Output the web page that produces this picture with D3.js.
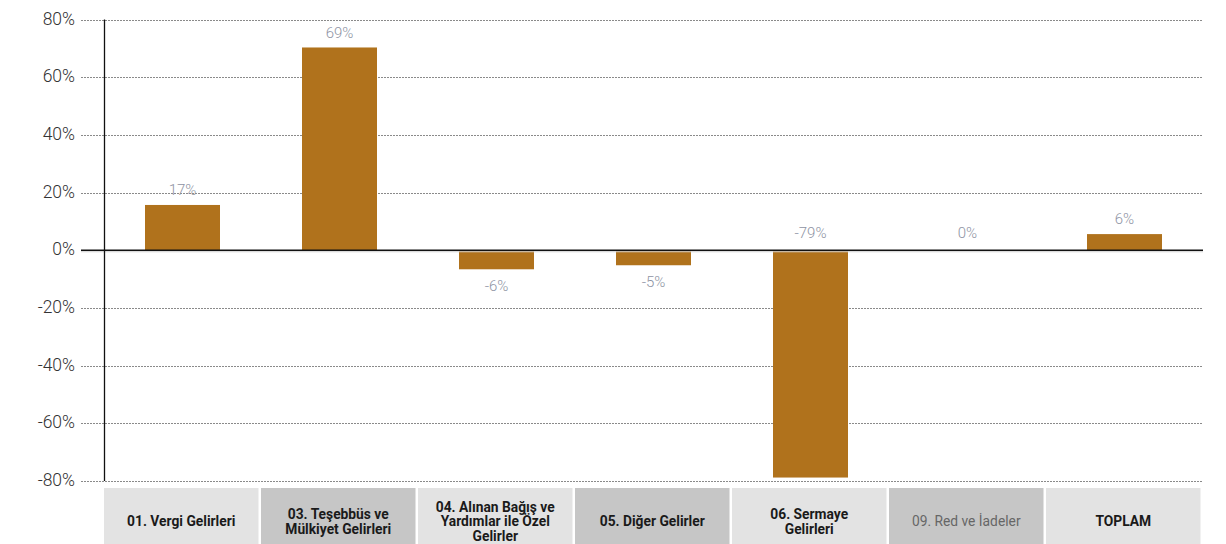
<!DOCTYPE html>
<html><head><meta charset="utf-8">
<script src="https://cdn.jsdelivr.net/npm/d3@7/dist/d3.min.js"></script>
<style>
html,body{margin:0;padding:0;background:#fff;}
svg{display:block;}
</style></head>
<body>
<svg id="chart" width="1226" height="544"></svg>
<script>
const categories = [
  ["01. Vergi Gelirleri"],
  ["03. Teşebbüs ve", "Mülkiyet Gelirleri"],
  ["04. Alınan Bağış ve", "Yardımlar ile Özel", "Gelirler"],
  ["05. Diğer Gelirler"],
  ["06. Sermaye", "Gelirleri"],
  ["09. Red ve İadeler"],
  ["TOPLAM"]
];
const values = [15.7, 70.3, -6.6, -5.2, -78.8, 0, 5.6];
const valueLabels = ["17%", "69%", "-6%", "-5%", "-79%", "0%", "6%"];
const yTicks = [80, 60, 40, 20, 0, -20, -40, -60, -80];
const boxFills = ["#e3e3e3", "#c6c6c6", "#e3e3e3", "#c6c6c6", "#e3e3e3", "#c6c6c6", "#e3e3e3"];
const boxBold = [true, true, true, true, true, false, true];

const svg = d3.select("#chart");
const x0 = 104, x1 = 1203, gridStart = 81;
const x = d3.scaleBand().domain(d3.range(categories.length)).range([x0, x1]).paddingInner(0).paddingOuter(0);
const y = d3.scaleLinear().domain([-80, 80]).range([481, 19.5]);
const barW = 75;
const font = "Roboto, 'DejaVu Sans', sans-serif";

// gridlines
svg.append("g").selectAll("line").data(yTicks.filter(d => d !== 0)).join("line")
  .attr("x1", gridStart).attr("x2", x1)
  .attr("y1", d => Math.round(y(d)) + 0.5).attr("y2", d => Math.round(y(d)) + 0.5)
  .attr("stroke", "#8a8a8a").attr("stroke-width", 1).attr("stroke-dasharray", "2,1");

// y tick labels
svg.append("g").selectAll("text").data(yTicks).join("text")
  .attr("x", 75).attr("y", d => y(d) - 1).attr("dy", "0.35em")
  .attr("text-anchor", "end").attr("font-family", font).attr("font-size", 17.5)
  .attr("font-weight", 300)
  .attr("fill", "#333").text(d => d + "%");

// bars
svg.append("g").selectAll("rect").data(values).join("rect")
  .attr("x", (d, i) => x(i) + x.bandwidth() / 2 - barW / 2)
  .attr("width", barW)
  .attr("y", d => y(Math.max(0, d)))
  .attr("height", d => Math.abs(y(d) - y(0)))
  .attr("fill", "#b0721c");

// zero line
svg.append("line").attr("x1", gridStart).attr("x2", x1)
  .attr("y1", y(0) + 1.5).attr("y2", y(0) + 1.5).attr("stroke", "#cfcfcf").attr("stroke-width", 1.2);
svg.append("line").attr("x1", gridStart).attr("x2", x1)
  .attr("y1", y(0)).attr("y2", y(0)).attr("stroke", "#111").attr("stroke-width", 1.3);

// y axis line
svg.append("line").attr("x1", x0 + 0.5).attr("x2", x0 + 0.5)
  .attr("y1", y(80)).attr("y2", y(-80)).attr("stroke", "#111").attr("stroke-width", 1.3);

// value labels
svg.append("g").selectAll("text").data(values).join("text")
  .attr("x", (d, i) => x(i) + x.bandwidth() / 2)
  .attr("y", d => {
    if (d > 0) return y(d) - 15;
    if (d < -50 || d === 0) return y(0) - 17.5;
    return y(d) + 16.5;
  })
  .attr("dy", "0.35em")
  .attr("text-anchor", "middle").attr("font-family", font).attr("font-size", 15)
  .attr("font-weight", 300)
  .attr("fill", "#8e93a3").text((d, i) => valueLabels[i]);

// category boxes
const gBox = svg.append("g").selectAll("g").data(categories).join("g")
  .attr("transform", (d, i) => `translate(${x(i)},488)`);
gBox.append("rect").attr("x", 0).attr("y", 0).attr("width", x.bandwidth() - 2.5).attr("height", 60)
  .attr("fill", (d, i) => boxFills[i]);
gBox.each(function(lines, i) {
  const g = d3.select(this);
  const lh = 14.5;
  const cy = 33.5;
  const startY = cy - (lines.length - 1) * lh / 2;
  g.selectAll("text").data(lines).join("text")
    .attr("x", (x.bandwidth() - 2.5) / 2)
    .attr("y", (d, j) => startY + j * lh)
    .attr("dy", "0.35em")
    .attr("text-anchor", "middle").attr("font-family", font)
    .attr("font-size", 13.8)
    .attr("font-weight", boxBold[i] ? 700 : 400)
    .attr("fill", boxBold[i] ? "#1a1a1a" : "#666")
    .text(d => d);
});
</script>
</body></html>
